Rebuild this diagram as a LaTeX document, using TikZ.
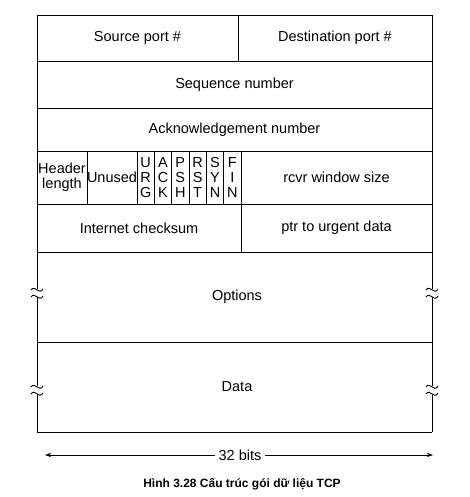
\documentclass[tikz,border=0pt]{standalone}
\usepackage{fontspec}
\setmainfont{Liberation Sans}
\usetikzlibrary{arrows.meta,positioning}

\begin{document}
\begin{tikzpicture}[x=1pt, y=-1pt, line width=0.9pt,
    every node/.style={font=\fontsize{14.5}{15}\selectfont},
    field/.style={draw, rectangle, anchor=north west, inner sep=0pt, outer sep=0pt, align=center},
    brk/.pic={\draw (-6,-3) .. controls (-2,-9) and (2,3) .. (6,-4);
              \draw (-6,4) .. controls (-2,-2) and (2,10) .. (6,3);}]
        \fill[white] (0,0) rectangle (470,497);
        \useasboundingbox (0,0) rectangle (470,497);
        % fixed rows
        \node[field, minimum width=201pt, minimum height=46pt] (srcport) at (37,15) {Source port \#};
        \node[field, minimum width=194pt, minimum height=46pt] (dstport) at (238,15) {Destination port \#};
        \node[field, minimum width=395pt, minimum height=47pt] (seqnum) at (37,61) {Sequence number};
        \node[field, minimum width=395pt, minimum height=43pt] (acknum) at (37,108) {Acknowledgement number};
        \node[field, minimum width=50pt, minimum height=53pt] (hdrlen) at (37,151) {Header\\length};
        \node[field, minimum width=50pt, minimum height=53pt] (unused) at (87,151) {Unused};
        \foreach \a/\b/\c/\nm [count=\i from 0] in {U/R/G/urg,A/C/K/ack,P/S/H/psh,R/S/T/rst,S/Y/N/syn,F/I/N/fin}{\node[field, minimum width=17.33pt, minimum height=53pt] (\nm) at ({137+\i*17.33},151) {\a\\\b\\\c};}
        \node[field, minimum width=191pt, minimum height=53pt] (rcvwin) at (241,151) {rcvr window size};
        \node[field, minimum width=204pt, minimum height=48pt] (cksum) at (37,204) {Internet checksum};
        \node[field, minimum width=191pt, minimum height=48pt] (urgptr) at (241,204) {ptr to urgent data};
        % variable rows
        \node (options) at (237,297) {Options};
        \node (data) at (237,387) {Data};
        \draw (37,342) -- (432,342) (37,432) -- (432,432);
        \foreach \x in {37,432}{
          \draw (\x,252) -- (\x,289) (\x,297) -- (\x,386) (\x,394) -- (\x,432);
          \pic at (\x,293) {brk};
          \pic at (\x,390) {brk};
        }
        % width
        \coordinate (arrL) at (45,455);
        \coordinate (arrR) at (433,455);
        \node (bits) at (240,455) {32 bits};
        \foreach \y in {arrL,arrR}{\draw[-{Stealth[length=6pt,width=4pt]}, line width=0.6pt] (bits) -- (\y);}
        \node[font=\fontsize{12}{14}\selectfont\bfseries] (caption) at (242,484) {Hình 3.28 Cấu trúc gói dữ liệu TCP};
      \end{tikzpicture}
\end{document}
